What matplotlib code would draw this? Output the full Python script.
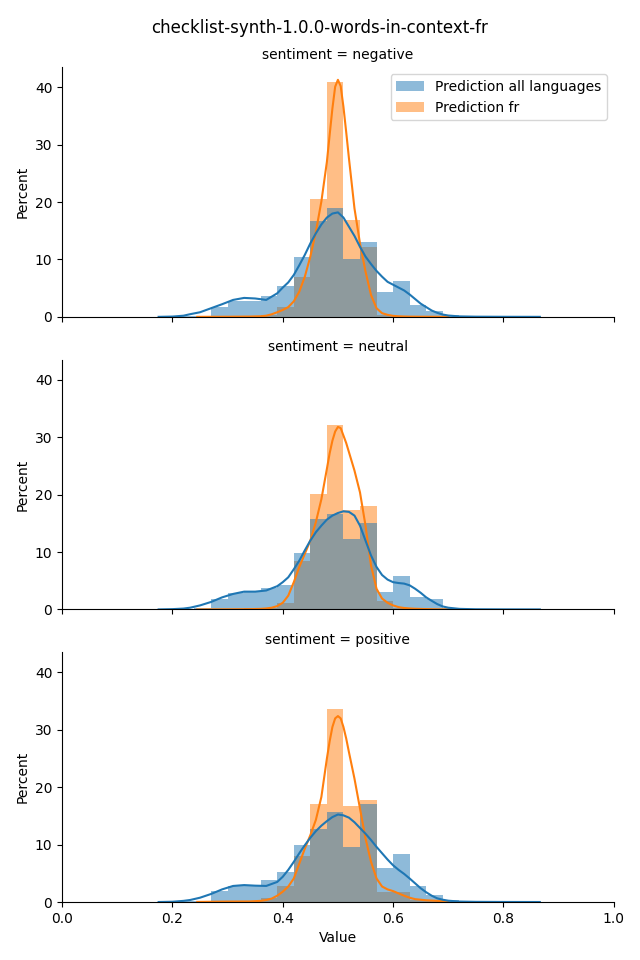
import numpy as np
import matplotlib
matplotlib.use('Agg')
from matplotlib import pyplot as plt
from matplotlib.patches import Patch

# histogram bins (width 0.03), left edges
bin_left = [0.18, 0.21, 0.24, 0.27, 0.30, 0.33, 0.36, 0.39, 0.42, 0.45, 0.48, 0.51,
            0.54, 0.57, 0.60, 0.63, 0.66, 0.69, 0.72, 0.75, 0.78, 0.81, 0.84]
bin_width = 0.03

sentiments = ['negative', 'neutral', 'positive']
series_names = ['Prediction all languages', 'Prediction fr']

# percent per bin
neg_all = [0.05, 0.1, 0.2, 1.8, 2.8, 2.8, 3.65, 5.4, 10.5, 16.7, 19.0, 10.0,
           13.0, 4.35, 6.25, 2.1, 1.1, 0.3, 0.1, 0.05, 0.05, 0.05, 0.05]
neg_fr = [0, 0, 0.05, 0.1, 0.1, 0.2, 0.4, 1.7, 7.0, 20.5, 40.9, 16.9,
          12.2, 0.3, 0.1, 0.1, 0.05, 0.05, 0, 0, 0, 0, 0]

neu_all = [0.05, 0.1, 0.2, 1.8, 2.9, 3.25, 3.8, 4.3, 9.8, 15.8, 16.7, 12.2,
           15.0, 3.1, 5.9, 2.25, 1.9, 0.3, 0.1, 0.05, 0.05, 0.05, 0.05]
neu_fr = [0, 0, 0.05, 0.1, 0.1, 0.2, 0.3, 1.2, 8.5, 20.2, 32.2, 17.3,
          18.1, 1.45, 0.2, 0.1, 0.05, 0.05, 0, 0, 0, 0, 0]

pos_all = [0.05, 0.1, 0.2, 1.9, 2.8, 2.9, 3.8, 5.2, 9.9, 12.7, 15.65, 9.6,
           17.0, 5.9, 8.35, 2.8, 1.2, 0.3, 0.1, 0.05, 0.05, 0.05, 0.05]
pos_fr = [0, 0, 0.05, 0.1, 0.2, 0.2, 0.7, 2.8, 8.1, 17.0, 33.6, 16.8,
          17.7, 1.7, 1.7, 0.3, 0.1, 0.05, 0, 0, 0, 0, 0]

# kde curves (percent scale)
kde_x_all = [0.175, 0.20, 0.22, 0.232, 0.25, 0.27, 0.29, 0.31, 0.33, 0.35, 0.37,
             0.39, 0.40, 0.41, 0.42, 0.43, 0.44, 0.45, 0.46, 0.47, 0.48, 0.49,
             0.50, 0.51, 0.52, 0.53, 0.54, 0.55, 0.56, 0.57, 0.58, 0.59, 0.60,
             0.61, 0.62, 0.63, 0.64, 0.65, 0.66, 0.67, 0.68, 0.69, 0.70,
             0.72, 0.75, 0.80, 0.866]
kde_neg_all = [0.0, 0.05, 0.2, 0.46, 0.8, 1.5, 2.2, 2.95, 3.3, 3.2, 2.95,
               4.1, 5.1, 6.0, 7.3, 9.0, 10.8, 12.8, 14.55, 16.1, 17.3, 18.0,
               18.2, 17.3, 15.7, 14.1, 12.2, 10.5, 9.2, 8.0, 7.0, 6.1, 5.6,
               5.1, 4.6, 3.9, 3.1, 2.3, 1.7, 1.1, 0.7, 0.4, 0.23,
               0.08, 0.03, 0.01, 0.0]
kde_neu_all = [0.0, 0.05, 0.15, 0.3, 0.7, 1.3, 2.1, 2.7, 3.1, 3.1, 3.3,
               4.05, 4.75, 5.6, 7.0, 8.5, 10.3, 12.0, 13.45, 14.6, 15.65, 16.35,
               16.8, 17.1, 17.0, 16.35, 14.6, 12.0, 9.4, 7.4, 6.0, 5.2, 4.75,
               4.6, 4.5, 4.2, 3.6, 2.9, 2.1, 1.5, 0.93, 0.52, 0.3,
               0.1, 0.03, 0.01, 0.0]
kde_pos_all = [0.0, 0.05, 0.2, 0.35, 0.75, 1.4, 2.2, 2.8, 2.95, 2.85, 2.8,
               3.5, 4.4, 5.6, 7.0, 8.5, 9.9, 11.2, 12.35, 13.3, 14.1, 14.8,
               15.25, 15.1, 14.7, 13.9, 12.9, 11.9, 10.8, 9.6, 8.5, 7.4, 6.4,
               5.6, 4.9, 4.1, 3.25, 2.4, 1.7, 1.1, 0.64, 0.4, 0.23,
               0.08, 0.03, 0.01, 0.0]

kde_x_fr = [0.245, 0.30, 0.34, 0.36, 0.37, 0.38, 0.39, 0.40, 0.41, 0.42, 0.43,
            0.44, 0.45, 0.46, 0.47, 0.48, 0.485, 0.49, 0.495, 0.50, 0.505, 0.51,
            0.515, 0.52, 0.53, 0.54, 0.55, 0.56, 0.57, 0.58, 0.59, 0.60, 0.61,
            0.62, 0.63, 0.64, 0.66, 0.68, 0.70]
kde_neg_fr = [0.0, 0.02, 0.05, 0.1, 0.2, 0.45, 0.8, 1.2, 1.7, 2.7, 4.4,
              7.0, 10.5, 14.8, 20.1, 27.0, 31.7, 36.3, 40.1, 41.3, 40.2, 36.6,
              32.2, 27.6, 18.9, 12.8, 7.9, 3.8, 1.5, 0.64, 0.35, 0.17, 0.1,
              0.06, 0.04, 0.03, 0.02, 0.01, 0.0]
kde_neu_fr = [0.0, 0.02, 0.05, 0.1, 0.17, 0.3, 0.58, 1.16, 2.4, 4.75, 7.4,
              9.7, 12.0, 15.2, 19.2, 24.5, 27.2, 29.4, 31.0, 31.8, 31.6, 30.3,
              29.0, 27.4, 24.2, 20.4, 14.6, 7.65, 3.6, 1.9, 1.16, 0.7, 0.4,
              0.25, 0.17, 0.12, 0.06, 0.02, 0.0]
kde_pos_fr = [0.02, 0.08, 0.1, 0.2, 0.35, 0.6, 1.1, 1.8, 2.7, 4.1, 6.7,
              9.3, 11.65, 14.3, 18.3, 25.0, 28.0, 30.5, 32.0, 32.4, 32.0, 30.5,
              28.5, 26.1, 21.5, 16.3, 11.1, 7.0, 4.1, 2.7, 2.2, 1.9, 1.5,
              1.1, 0.75, 0.5, 0.3, 0.2, 0.12]

pdata = {'negative': (neg_all, neg_fr, kde_neg_all, kde_neg_fr),
         'neutral': (neu_all, neu_fr, kde_neu_all, kde_neu_fr),
         'positive': (pos_all, pos_fr, kde_pos_all, kde_pos_fr)}

c_all = '#1f77b4'
c_fr = '#ff7f0e'

fig, axes = plt.subplots(3, 1, sharex=True, sharey=True, figsize=(6.4, 9.6))
fig.subplots_adjust(left=0.097, right=0.959, top=0.930, bottom=0.0604, hspace=0.172)

for ax, sent in zip(axes, sentiments):
    h_all, h_fr, k_all, k_fr = pdata[sent]
    # fr drawn first so that the overlap looks grey
    ax.bar(bin_left, h_fr, width=bin_width, align='edge', color=c_fr, alpha=0.5, linewidth=0)
    ax.bar(bin_left, h_all, width=bin_width, align='edge', color=c_all, alpha=0.5, linewidth=0)
    ax.plot(kde_x_fr, k_fr, color=c_fr, linewidth=1.5)
    ax.plot(kde_x_all, k_all, color=c_all, linewidth=1.5)
    ax.set_title('sentiment = ' + sent, fontsize=10)
    ax.set_ylabel('Percent')
    ax.spines['top'].set_visible(False)
    ax.spines['right'].set_visible(False)

axes[0].set_xlim(0, 1)
axes[0].set_ylim(0, 43.5)
axes[-1].set_xlabel('Value')

handles = [Patch(facecolor=c_all, alpha=0.5, linewidth=0),
           Patch(facecolor=c_fr, alpha=0.5, linewidth=0)]
axes[0].legend(handles, series_names, loc='upper right')

fig.suptitle('checklist-synth-1.0.0-words-in-context-fr', fontsize=12)

fig.savefig('out.png', dpi=100)
